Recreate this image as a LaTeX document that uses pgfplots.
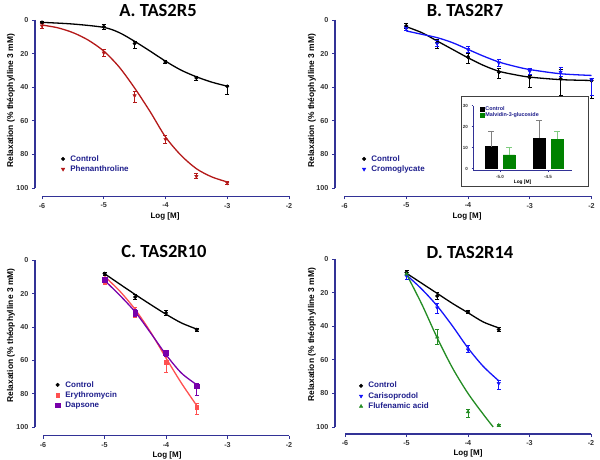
\documentclass[border=0pt]{standalone}
\usepackage{fontspec}
\setmainfont{Liberation Sans}
\newfontfamily\titlefont{Carlito}
\usepackage{pgfplots}
\pgfplotsset{compat=1.18}
\definecolor{axc}{RGB}{50,50,150}
\definecolor{legc}{RGB}{30,30,140}
\definecolor{redA}{RGB}{180,25,25}
\definecolor{blueB}{RGB}{20,20,250}
\definecolor{salmon}{RGB}{255,80,80}
\definecolor{purp}{RGB}{120,0,170}
\definecolor{grn}{RGB}{35,140,35}
\definecolor{grn2}{RGB}{0,130,0}
\tikzset{ttl/.style={font=\titlefont\bfseries\fontsize{18.5}{21}\selectfont}}
\pgfplotsset{
  panel/.style={
    scale only axis, width=247pt, height=168pt,
    axis x line*=bottom, axis y line*=left,
    axis x line shift=8.5pt, axis y line shift=8pt,
    axis line style={axc, line width=1.2pt, -},
    y dir=reverse, ymin=0, ymax=100,
    xmin=-6, xmax=-2, xtick={-6,-5,-4,-3,-2}, ytick={0,20,40,60,80,100},
    tick align=outside, major tick length=3pt,
    tick style={axc, line width=0.9pt},
    ticklabel style={font=\bfseries\fontsize{7.2}{8}\selectfont, text=black!80},
    /pgf/number format/assume math mode=true,
    xlabel={Log [M]}, ylabel={Relaxation (\% théophylline 3 mM)},
    every axis y label/.style={rotate=90, anchor=center, font=\bfseries\fontsize{8.4}{9}\selectfont},
    every axis x label/.style={anchor=center, font=\bfseries\fontsize{8}{9}\selectfont},
    clip=false,
    legend style={draw=none, fill=none, font=\bfseries\fontsize{8}{9}\selectfont,
      text=legc, anchor=north west, row sep=1pt,
      nodes={inner sep=1pt},
      /tikz/every odd column/.append style={column sep=4.5pt}},
    legend cell align=left,
  },
  err/.style={error bars/.cd, y dir=both, y explicit,
      error bar style={line width=0.8pt},
      error mark options={rotate=90, mark size=2pt, line width=0.8pt}},
  fit/.style={smooth, no marks, line width=1.3pt, forget plot},
}
\begin{document}
\begin{tikzpicture}
\useasboundingbox (0pt,0pt) rectangle (600pt,460pt);

% ---------------- A ----------------
\node[ttl] at (158pt,449pt) {A. TAS2R5};
\begin{axis}[panel, at={(42pt,272pt)}, axis y line shift=7pt,
  ylabel style={at={(axis description cs:-0.1255,0.52)}},
  xlabel style={at={(axis description cs:0.498,-0.167)}},
  legend style={at={(0.065,0.214)}}]
\addplot[fit, black] coordinates {(-6,1.4) (-5.5,2.4) (-5,4.4) (-4.75,7.5) (-4.5,12.7) (-4.25,18.5) (-4,24.5) (-3.75,29.8) (-3.5,33.8) (-3.25,37) (-3,39.4)};
\addplot[fit, redA] coordinates {(-6,3) (-5.75,4.6) (-5.5,7.5) (-5.25,12) (-5,18.5) (-4.75,28) (-4.5,40.5) (-4.25,54.5) (-4,69.6) (-3.75,80.5) (-3.5,88.5) (-3.25,93.4) (-3,96.4)};
\addplot[only marks, mark=*, mark size=1.8pt, black, forget plot, err] coordinates {
 (-6,1.5) +- (0,0.6)
 (-5,4) +- (0,1.4)
 (-4.5,14) += (0,3) -= (0,1.5)
 (-4,25) +- (0,1)
 (-3.5,34.5) +- (0,1.2)
 (-3,39.5) += (0,4.8) -= (0,0.7)};
\addplot[only marks, mark=triangle*, mark options={rotate=180}, mark size=2pt, redA, forget plot, err] coordinates {
 (-6,3.5) +- (0,1.4)
 (-5,19.5) +- (0,2)
 (-4.5,45) += (0,4.3) -= (0,2.3)
 (-4,71) +- (0,2.3)
 (-3.5,93) +- (0,1.5)
 (-3,97) +- (0,0.8)};
\addlegendimage{only marks, mark=*, mark size=1.8pt, black}
\addlegendentry{Control}
\addlegendimage{only marks, mark=triangle*, mark options={rotate=180}, mark size=2pt, redA}
\addlegendentry{Phenanthroline}
\end{axis}

% ---------------- B ----------------
\node[ttl] at (465pt,449pt) {B. TAS2R7};
\begin{axis}[panel, at={(344.5pt,272pt)}, axis y line shift=9.5pt,
  ylabel style={at={(axis description cs:-0.132,0.52)}},
  xlabel style={at={(axis description cs:0.496,-0.167)}},
  legend style={at={(0.059,0.214)}}]
\addplot[fit, black] coordinates {(-5,4) (-4.75,7.5) (-4.5,12.5) (-4.25,17.5) (-4,22.5) (-3.75,27) (-3.5,30.5) (-3.25,32.5) (-3,34) (-2.5,35.5) (-2,36)};
\addplot[fit, blueB] coordinates {(-5,6.5) (-4.75,8.5) (-4.5,10.5) (-4.25,13.5) (-4,17.5) (-3.75,21.5) (-3.5,25) (-3.25,27.5) (-3,29.5) (-2.5,32) (-2,33)};
\addplot[only marks, mark=*, mark size=1.8pt, black, forget plot, err] coordinates {
 (-5,3.5) +- (0,1.3)
 (-4.5,13.5) += (0,3.5) -= (0,2)
 (-4,22) += (0,4) -= (0,2)
 (-3.5,31) += (0,4) -= (0,2)
 (-3,34.2) += (0,5.8) -= (0,1.2)
 (-2.5,35) += (0,10) -= (0,5.5)
 (-2,36) += (0,10.5) -= (0,1)};
\addplot[only marks, mark=triangle*, mark options={rotate=180}, mark size=2pt, blueB, forget plot, err] coordinates {
 (-5,5) +- (0,1.4)
 (-4.5,14) +- (0,1.8)
 (-4,17.5) +- (0,1.8)
 (-3.5,25.5) +- (0,2)
 (-3,30.5) +- (0,1.6)
 (-2.5,31) +- (0,2.5)
 (-2,35.5) += (0,9.5) -= (0,0.5)};
\addlegendimage{only marks, mark=*, mark size=1.8pt, black}
\addlegendentry{Control}
\addlegendimage{only marks, mark=triangle*, mark options={rotate=180}, mark size=2pt, blueB}
\addlegendentry{Cromoglycate}
\end{axis}

% inset
\draw[fill=white, draw=black!75, line width=1pt] (461pt,363pt) rectangle (588pt,273pt);
\begin{axis}[at={(473pt,289.3pt)}, scale only axis, width=99pt, height=65pt,
  xmin=-0.5625, xmax=1.5, ymin=-1, ymax=30,
  axis x line*=bottom, axis y line*=left,
  axis line style={axc, line width=0.8pt, -},
  xtick={0,1}, xticklabels={-5.0,-4.5}, ytick={0,10,20,30},
  tick align=outside, major tick length=1.5pt, tick style={axc, line width=0.5pt},
  ticklabel style={font=\bfseries\fontsize{4.5}{5}\selectfont, text=black!80},
  /pgf/number format/assume math mode=true,
  xlabel={Log [M]},
  every axis x label/.style={at={(axis description cs:0.5,-0.18)}, anchor=center, font=\bfseries\fontsize{4.8}{5}\selectfont},
  clip=false,
  legend style={draw=none, fill=none, font=\bfseries\fontsize{5.4}{6}\selectfont,
    text=legc, anchor=north west, at={(0.04,1.03)}, row sep=-1.2pt, nodes={inner sep=0.8pt}},
  legend cell align=left,
  legend image code/.code={\fill[#1] (0pt,-2.2pt) rectangle (4pt,2.2pt);}]
\addplot[ybar, bar width=12pt, bar shift=0pt, fill=black, draw=black,
  error bars/.cd, y dir=plus, y explicit, error bar style={gray, line width=0.6pt},
  error mark options={rotate=90, mark size=3pt, gray, line width=0.6pt}]
  coordinates {(-0.1875,10.5) += (0,7.5) (0.8125,14.5) += (0,8.5)};
\addlegendentry{Control}
\addplot[ybar, bar width=12pt, bar shift=0pt, fill=grn2, draw=grn2,
  error bars/.cd, y dir=plus, y explicit, error bar style={green!60!black!50, line width=0.6pt},
  error mark options={rotate=90, mark size=3pt, green!60!black!50, line width=0.6pt}]
  coordinates {(0.1875,6.5) += (0,3.5) (1.1875,14) += (0,4)};
\addlegendentry{Malvidin-3-glucoside}
\end{axis}

% ---------------- C ----------------
\node[ttl] at (164pt,208pt) {C. TAS2R10};
\begin{axis}[panel, at={(43pt,32.7pt)}, width=246pt, height=167pt,
  ylabel style={at={(axis description cs:-0.13,0.55)}},
  xlabel style={at={(axis description cs:0.504,-0.166)}},
  legend style={at={(0.037,0.295)}}]
\addplot[fit, black] coordinates {(-5,8) (-4.75,14.3) (-4.5,20.5) (-4.25,26.5) (-4,32.3) (-3.75,37.5) (-3.5,41.2)};
\addplot[fit, salmon] coordinates {(-5,9.6) (-4.75,18.5) (-4.5,29.5) (-4.25,43) (-4,58.5) (-3.75,73.5) (-3.5,87)};
\addplot[fit, purp] coordinates {(-5,12) (-4.75,21) (-4.5,31) (-4.25,43.5) (-4,56.5) (-3.75,67.5) (-3.5,74.5)};
\addplot[only marks, mark=*, mark size=1.8pt, black, forget plot, err] coordinates {
 (-5,8) +- (0,1)
 (-4.5,22) +- (0,1.6)
 (-4,31.5) +- (0,1.2)
 (-3.5,41.6) +- (0,1)};
\addplot[only marks, mark=square*, mark size=1.8pt, salmon, forget plot, err] coordinates {
 (-5,12.5) +- (0,1.8)
 (-4.5,31) +- (0,3)
 (-4,61) += (0,6.3) -= (0,6)
 (-3.5,88) += (0,4) -= (0,2.3)};
\addplot[only marks, mark=square*, mark size=2.3pt, purp, forget plot, err] coordinates {
 (-5,11.5) +- (0,1.3)
 (-4.5,31.5) +- (0,2.2)
 (-4,55.5) +- (0,1.8)
 (-3.5,75.5) += (0,5.2) -= (0,1.5)};
\addlegendimage{only marks, mark=*, mark size=1.8pt, black}
\addlegendentry{Control}
\addlegendimage{only marks, mark=square*, mark size=1.8pt, salmon}
\addlegendentry{Erythromycin}
\addlegendimage{only marks, mark=square*, mark size=2.3pt, purp}
\addlegendentry{Dapsone}
\end{axis}

% ---------------- D ----------------
\node[ttl] at (470pt,207pt) {D. TAS2R14};
\begin{axis}[panel, at={(345pt,33pt)}, width=246pt, axis y line shift=10pt, axis x line shift=7pt,
  ylabel style={at={(axis description cs:-0.134,0.55)}},
  xlabel style={at={(axis description cs:0.5,-0.16)}},
  legend style={at={(0.045,0.286)}}]
\addplot[fit, black] coordinates {(-5,8.5) (-4.75,14.5) (-4.5,20.5) (-4.25,26.5) (-4,32) (-3.75,37.5) (-3.5,41)};
\addplot[fit, blueB] coordinates {(-5,9.5) (-4.75,18) (-4.5,28) (-4.25,40) (-4,53) (-3.75,64) (-3.5,72.5)};
\addplot[fit, grn] coordinates {(-5,9) (-4.75,27) (-4.5,47) (-4.25,65) (-4,80) (-3.75,92.5) (-3.59,100)};
\addplot[only marks, mark=*, mark size=1.8pt, black, forget plot, err] coordinates {
 (-5,8) +- (0,1)
 (-4.5,22) +- (0,2)
 (-4,31.5) +- (0,1)
 (-3.5,42) +- (0,1)};
\addplot[only marks, mark=triangle*, mark options={rotate=180}, mark size=2pt, blueB, forget plot, err] coordinates {
 (-5,10) +- (0,2)
 (-4.5,29) += (0,3.3) -= (0,2.3)
 (-4,54) += (0,1.5) -= (0,2.5)
 (-3.5,74) += (0,3.7) -= (0,2)};
\addplot[only marks, mark=triangle*, mark size=2pt, grn, forget plot, err] coordinates {
 (-5,9) +- (0,1)
 (-4.5,46.5) +- (0,4.5)
 (-4,91) += (0,3.4) -= (0,1.6)
 (-3.5,99) +- (0,0.4)};
\addlegendimage{only marks, mark=*, mark size=1.8pt, black}
\addlegendentry{Control}
\addlegendimage{only marks, mark=triangle*, mark options={rotate=180}, mark size=2pt, blueB}
\addlegendentry{Carisoprodol}
\addlegendimage{only marks, mark=triangle*, mark size=2pt, grn}
\addlegendentry{Flufenamic acid}
\end{axis}
\end{tikzpicture}
\end{document}
